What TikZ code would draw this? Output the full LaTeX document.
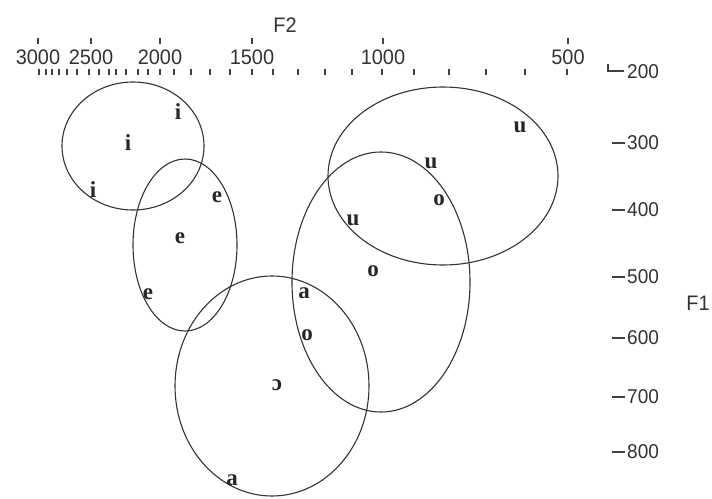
\documentclass[tikz,border=0pt]{standalone}
\usepackage{fontspec}
\setmainfont{Liberation Serif}
\newfontfamily\axfont[FakeStretch=0.95]{Liberation Sans}
\begin{document}
\begin{tikzpicture}[x=1pt,y=-1pt,
  vow/.style={font=\fontsize{23}{23}\selectfont\bfseries, inner sep=0pt, text=black!85},
  axl/.style={font=\axfont\fontsize{21}{21}\selectfont, inner sep=0pt, text=black!80},
  ryl/.style={font=\axfont\fontsize{20}{20}\selectfont, inner sep=0pt, anchor=west, text=black!80},
  ell/.style={draw=black!80, line width=1.1pt},
  tk/.style={draw=black!75, line width=1.2pt}]
\useasboundingbox (0,0) rectangle (712,498);
\fill[white] (0,0) rectangle (712,498);
% top axis
\node[axl] (F2) at (285,25) {F2};
\foreach \x/\l in {38/3000,91/2500,160/2000,252/1500,383/1000,568/500}{
  \draw[tk] (\x,38) -- (\x,44);
  \node[axl] (t\l) at (\x,57) {\l};
}
\foreach \x in {39,46,52,59,67,77,89,99,109,116,126,138,148,160,174,191,210,230,252,273,298,325,352,382,414,449,486,525,567}{
  \draw[tk] (\x,69) -- (\x,75);
}
% right axis
\draw[tk] (608,64) -- (608,71) -- (624,71);
\node[ryl] (r200) at (627,72) {200};
\foreach \y/\l in {143/300,210/400,277/500,338/600,397/700,452/800}{
  \draw[tk] (612,\y) -- (625,\y);
  \node[ryl] (r\l) at (627,\y) {\l};
}
\node[axl] (F1) at (698,303) {F1};
% ellipses
\draw[ell] (133,146) ellipse [x radius=71, y radius=64];
\draw[ell] (185,245) ellipse [x radius=52, y radius=86];
\draw[ell] (272,386) ellipse [x radius=97, y radius=110];
\draw[ell] (381,282) ellipse [x radius=89, y radius=130];
\draw[ell] (443,176) ellipse [x radius=115, y radius=89];
% vowel labels
\node[vow] (i1) at (178,112) {i};
\node[vow] (i2) at (128,143) {i};
\node[vow] (i3) at (93,190) {i};
\node[vow] (e1) at (217,197) {e};
\node[vow] (e2) at (180,238) {e};
\node[vow] (e3) at (148,294) {e};
\node[vow] (u1) at (520,127) {u};
\node[vow] (u2) at (431,163) {u};
\node[vow] (o1) at (439,200) {o};
\node[vow] (u3) at (353,220) {u};
\node[vow] (o2) at (373,271) {o};
\node[vow] (a1) at (304,293) {a};
\node[vow] (o3) at (307,335) {o};
\node[vow] (c1) at (277,385) {ɔ};
\node[vow] (a2) at (232,480) {a};
\end{tikzpicture}
\end{document}
